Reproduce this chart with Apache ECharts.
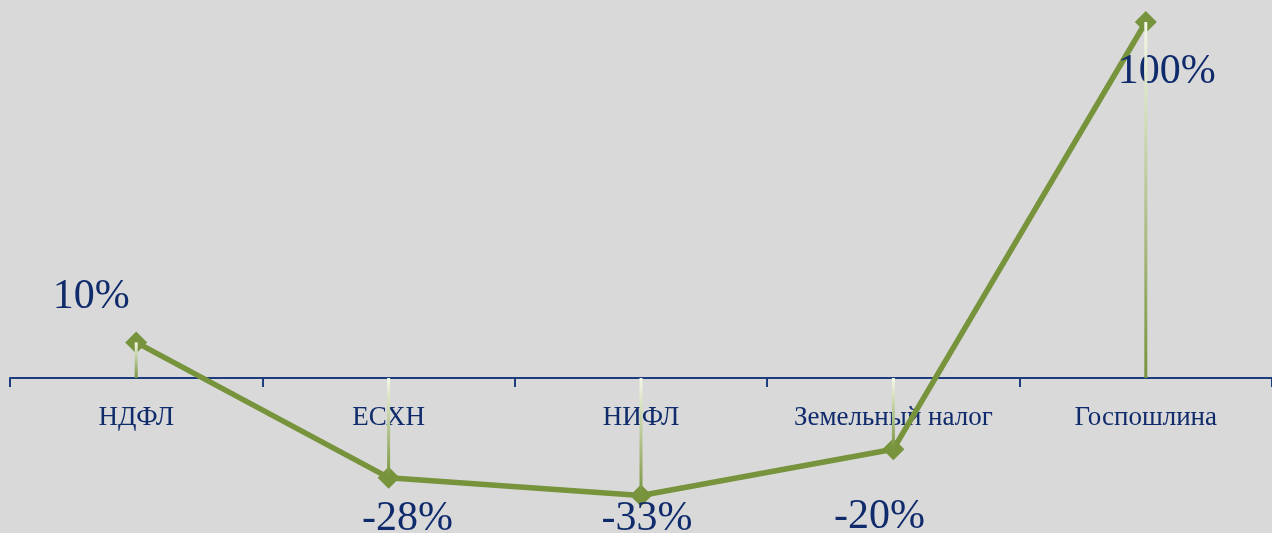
<!DOCTYPE html>
<html><head><meta charset="utf-8">
<script src="https://cdn.jsdelivr.net/npm/echarts@6/dist/echarts.min.js"></script>
<style>html,body{margin:0;padding:0;background:#d9d9d9}#c{width:1272px;height:533px}</style>
</head><body><div id="c"></div>
<script>
const categories = ['НДФЛ', 'ЕСХН', 'НИФЛ', 'Земельный налог', 'Госпошлина'];
const values = [10, -28, -33, -20, 100];
const labelTexts = ['10%', '-28%', '-33%', '-20%', '100%'];
const labelOffsets = [[-45, -45], [19, 41], [6, 23], [-14, 68], [21, 50]];

const chart = echarts.init(document.getElementById('c'));
const navy = '#0f2b6c';
chart.setOption({
  backgroundColor: '#d9d9d9',
  animation: false,
  grid: { left: 10, right: 0, top: 22, bottom: 12.6, outerBoundsMode: 'none', containLabel: false },
  xAxis: {
    type: 'category', data: categories, boundaryGap: true, offset: -142.4,
    axisLine: { onZero: false, lineStyle: { color: '#1d3c7e', width: 2 } },
    axisTick: { show: true, length: 9, lineStyle: { color: '#1d3c7e', width: 2 } },
    axisLabel: { color: navy, fontFamily: 'Liberation Serif', fontSize: 27, margin: 26, interval: 0 }
  },
  yAxis: { type: 'value', min: -40, max: 100, show: false, splitLine: { show: false } },
  series: [
    {
      type: 'line', data: values.map((v, i) => ({
        value: v,
        label: { show: true, position: 'inside', offset: labelOffsets[i], formatter: labelTexts[i] }
      })),
      symbol: 'diamond', symbolSize: 22,
      lineStyle: { color: '#77933c', width: 5.5 },
      itemStyle: { color: '#77933c' },
      label: { color: navy, fontFamily: 'Liberation Serif', fontSize: 42 },
      z: 2
    },
    {
      type: 'bar', data: values, barWidth: 3, z: 3,
      itemStyle: {
        color: new echarts.graphic.LinearGradient(0, 0, 0, 1, [
          { offset: 0, color: '#f4f8e8' },
          { offset: 1, color: '#77933c' }
        ])
      }
    }
  ]
});
</script></body></html>
